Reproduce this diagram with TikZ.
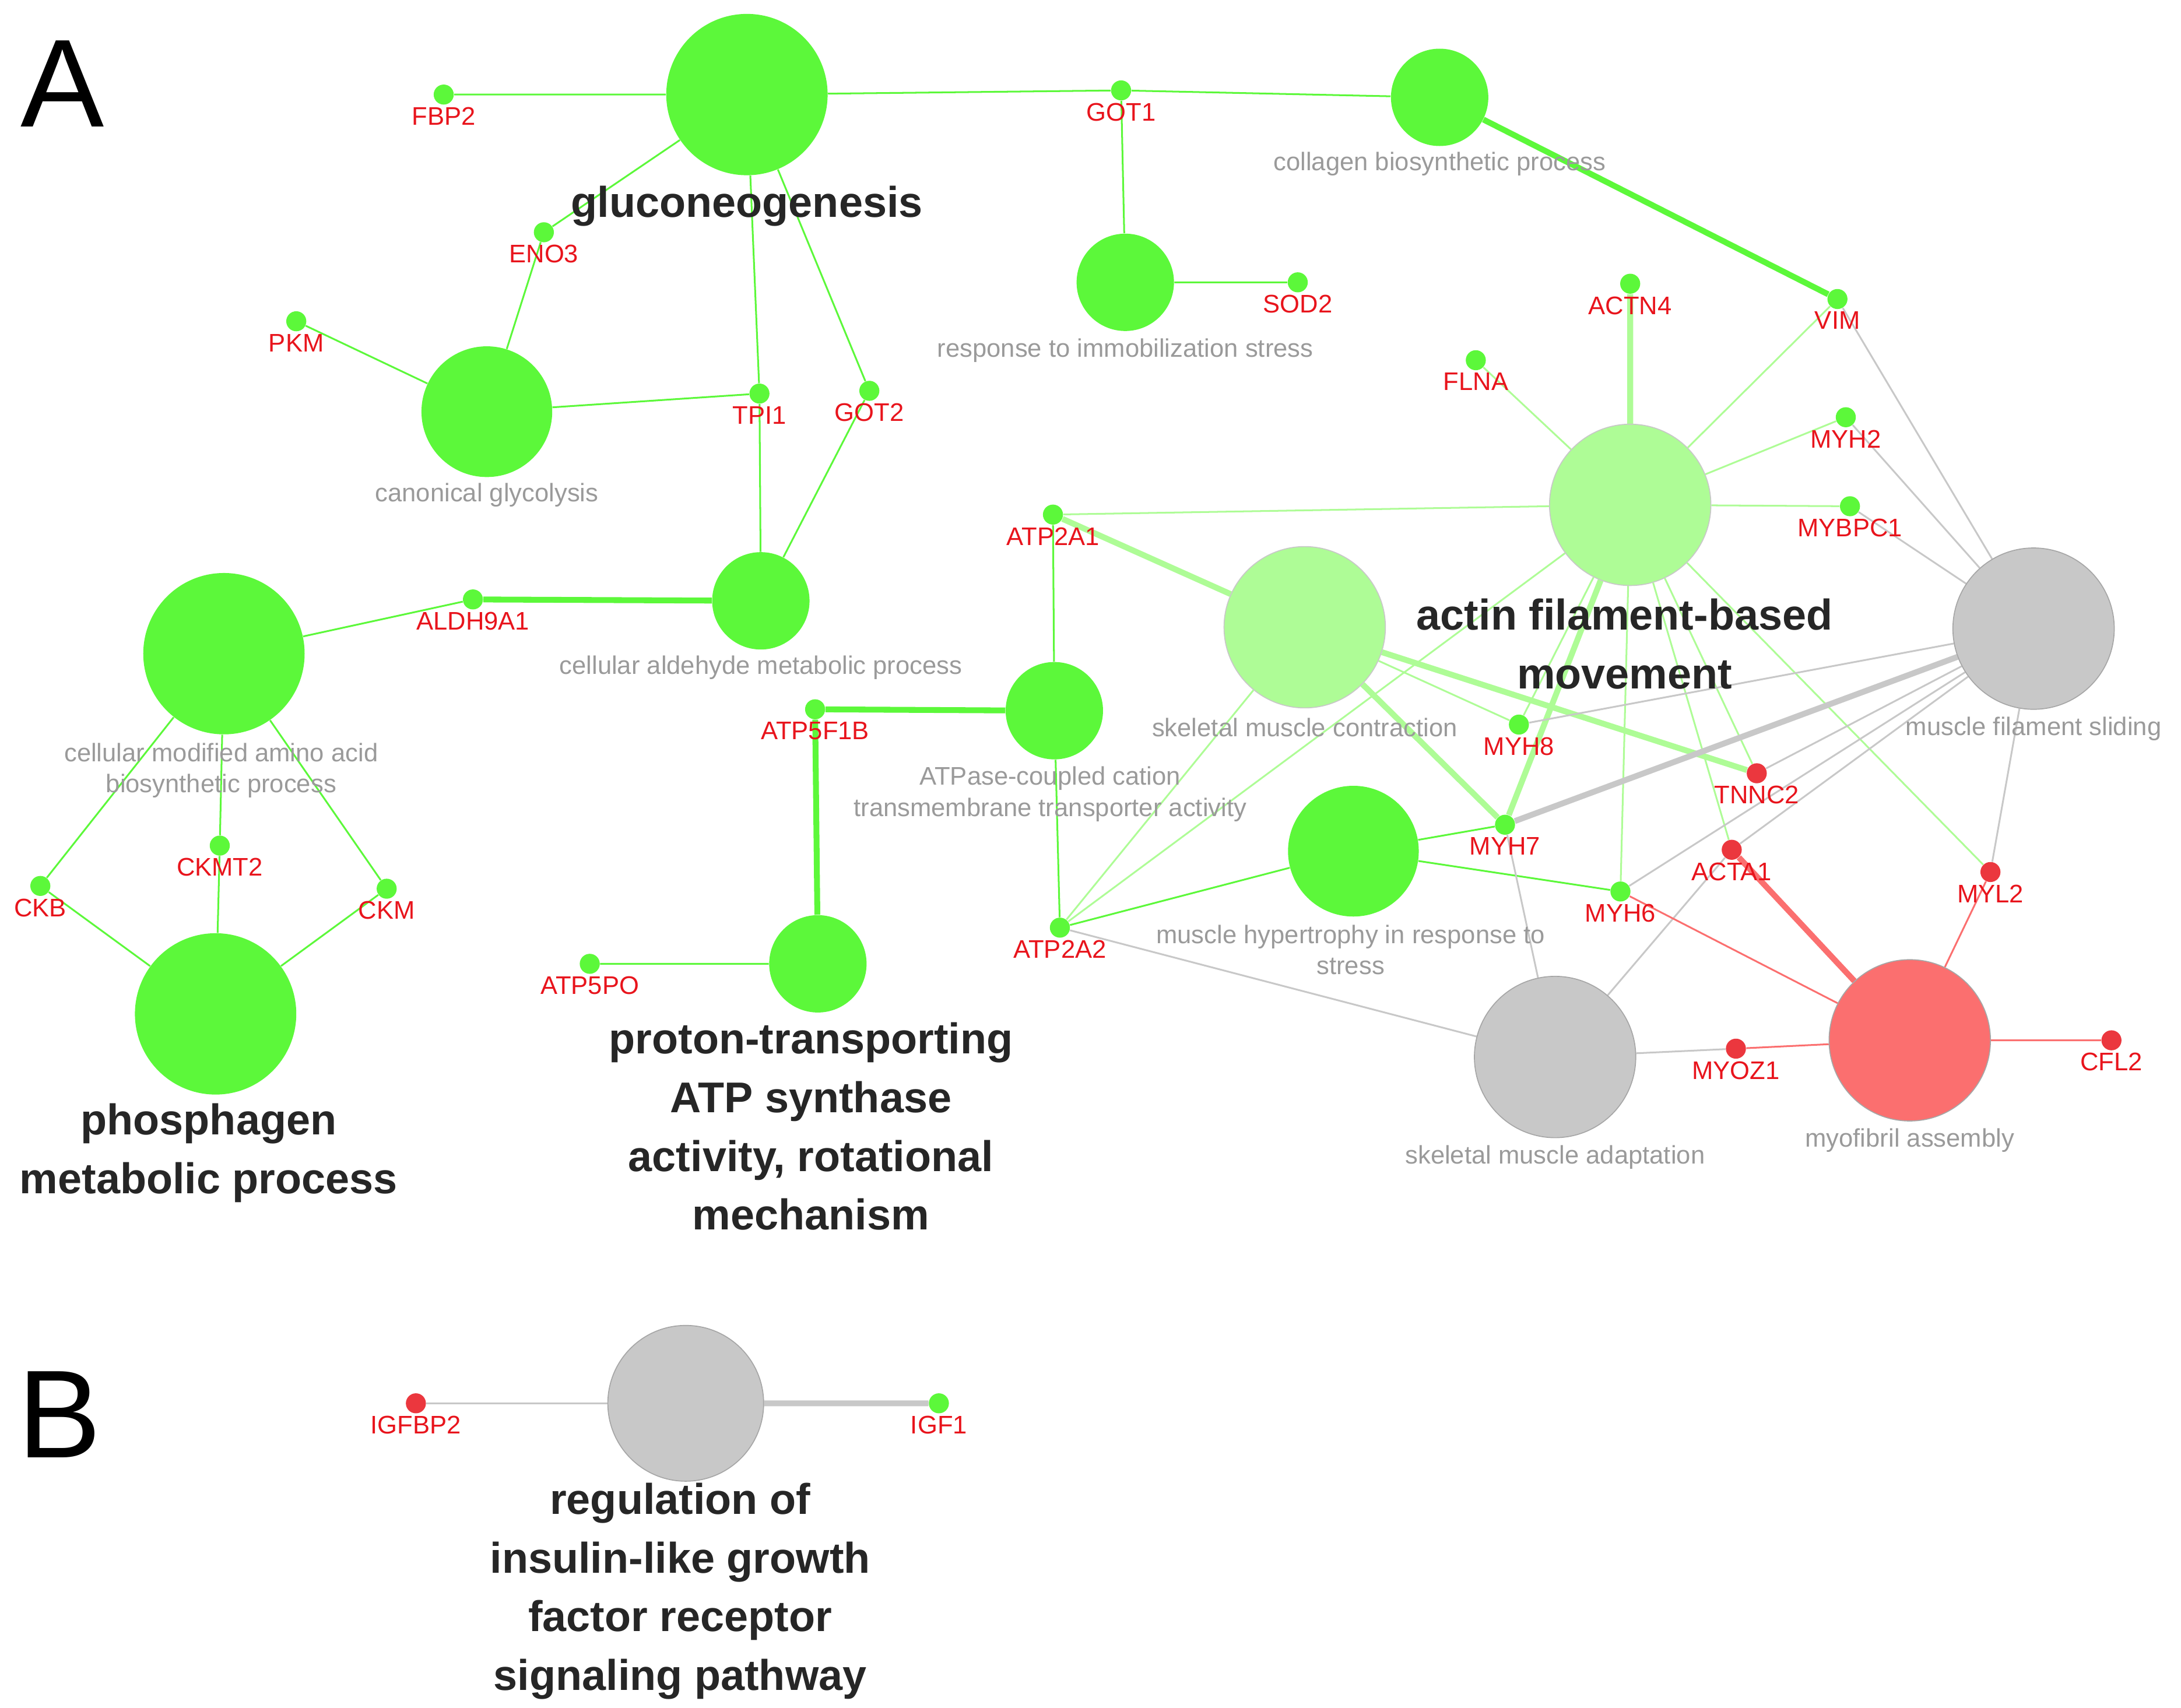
\documentclass[tikz,border=0pt]{standalone}
\usepackage{fontspec}
\setmainfont{Liberation Sans}
\usetikzlibrary{backgrounds}
\definecolor{tgreen}{HTML}{5CF83A}
\definecolor{lgreen}{HTML}{AEFC96}
\definecolor{tgray}{HTML}{C8C8C8}
\definecolor{tred}{HTML}{FB6F6F}
\definecolor{gred}{HTML}{E8141C}
\definecolor{lbl}{HTML}{9A9A9A}
\tikzset{
  term/.style={circle, inner sep=0pt, minimum size=#1*0.025cm},
  gene/.style={circle, inner sep=0pt, minimum size=0.36cm, label distance=2pt},
  gl/.style={text=gred, font=\fontsize{13}{15}\selectfont, inner sep=1pt},
  tl/.style={text=lbl, font=\fontsize{13}{16}\selectfont, align=center},
  bl/.style={text=black!85, font=\fontsize{22}{30}\selectfont\bfseries, align=center},
  eg/.style={draw=tgreen, line width=0.9pt},
  el/.style={draw=lgreen, line width=0.9pt},
  ey/.style={draw=tgray, line width=0.9pt},
  er/.style={draw=tred, line width=0.9pt},
  thick/.style={line width=3pt}
}
\begin{document}
\begin{tikzpicture}[x=0.025cm, y=-0.025cm]
  \useasboundingbox (0,0) rectangle (1568,1228);
  % term nodes
  \node[term=116, fill=tgreen] (gluco) at (537,68) {};
  \node[term=70, fill=tgreen] (coll) at (1035,70) {};
  \node[term=70, fill=tgreen] (immob) at (809,203) {};
  \node[term=94, fill=tgreen] (glyc) at (350,296) {};
  \node[term=70, fill=tgreen] (ald) at (547,432) {};
  \node[term=116, fill=tgreen] (amino) at (161,470) {};
  \node[term=70, fill=tgreen] (atpase) at (758,511) {};
  \node[term=116, fill=lgreen, draw=tgray, line width=0.5pt] (skel) at (938,451) {};
  \node[term=116, fill=lgreen, draw=tgray, line width=0.5pt] (actin) at (1172,363) {};
  \node[term=116, fill=tgray, draw=black!35, line width=0.5pt] (slide) at (1462,452) {};
  \node[term=94, fill=tgreen] (hyper) at (973,612) {};
  \node[term=116, fill=tgreen] (phos) at (155,729) {};
  \node[term=70, fill=tgreen] (proton) at (588,693) {};
  \node[term=116, fill=tgray, draw=black!35, line width=0.5pt] (adapt) at (1118,760) {};
  \node[term=116, fill=tred, draw=black!35, line width=0.5pt] (myo) at (1373,748) {};
  \node[term=112, fill=tgray, draw=black!35, line width=0.5pt] (igfr) at (493,1009) {};
  % gene nodes
  \node[gene, fill=tgreen, label={[gl]below:FBP2}] (fbp2) at (319,68) {};
  \node[gene, fill=tgreen, label={[gl]below:GOT1}] (got1) at (806,65) {};
  \node[gene, fill=tgreen, label={[gl]below:ENO3}] (eno3) at (391,167) {};
  \node[gene, fill=tgreen, label={[gl]below:PKM}] (pkm) at (213,231) {};
  \node[gene, fill=tgreen, label={[gl]below:TPI1}] (tpi1) at (546,283) {};
  \node[gene, fill=tgreen, label={[gl]below:GOT2}] (got2) at (625,281) {};
  \node[gene, fill=tgreen, label={[gl]below:SOD2}] (sod2) at (933,203) {};
  \node[gene, fill=tgreen, label={[gl]below:VIM}] (vim) at (1321,215) {};
  \node[gene, fill=tgreen, label={[gl]below:ACTN4}] (actn4) at (1172,204) {};
  \node[gene, fill=tgreen, label={[gl]below:FLNA}] (flna) at (1061,259) {};
  \node[gene, fill=tgreen, label={[gl]below:MYH2}] (myh2) at (1327,300) {};
  \node[gene, fill=tgreen, label={[gl]below:MYBPC1}] (mybpc1) at (1330,364) {};
  \node[gene, fill=tgreen, label={[gl]below:ATP2A1}] (atp2a1) at (757,370) {};
  \node[gene, fill=tgreen, label={[gl]below:ALDH9A1}] (aldh9a1) at (340,431) {};
  \node[gene, fill=tgreen, label={[gl]below:ATP5F1B}] (atp5f1b) at (586,510) {};
  \node[gene, fill=tgreen, label={[gl]below:MYH8}] (myh8) at (1092,521) {};
  \node[gene, fill=gred!85, label={[gl]below:TNNC2}] (tnnc2) at (1263,556) {};
  \node[gene, fill=tgreen, label={[gl]below:MYH7}] (myh7) at (1082,593) {};
  \node[gene, fill=gred!85, label={[gl]below:ACTA1}] (acta1) at (1245,611) {};
  \node[gene, fill=gred!85, label={[gl]below:MYL2}] (myl2) at (1431,627) {};
  \node[gene, fill=tgreen, label={[gl]below:MYH6}] (myh6) at (1165,641) {};
  \node[gene, fill=tgreen, label={[gl]below:ATP2A2}] (atp2a2) at (762,667) {};
  \node[gene, fill=tgreen, label={[gl]below:CKB}] (ckb) at (29,637) {};
  \node[gene, fill=tgreen, label={[gl]below:CKMT2}] (ckmt2) at (158,608) {};
  \node[gene, fill=tgreen, label={[gl]below:CKM}] (ckm) at (278,639) {};
  \node[gene, fill=tgreen, label={[gl]below:ATP5PO}] (atp5po) at (424,693) {};
  \node[gene, fill=gred!85, label={[gl]below:MYOZ1}] (myoz1) at (1248,754) {};
  \node[gene, fill=gred!85, label={[gl]below:CFL2}] (cfl2) at (1518,748) {};
  \node[gene, fill=gred!85, label={[gl]below:IGFBP2}] (igfbp2) at (299,1009) {};
  \node[gene, fill=tgreen, label={[gl]below:IGF1}] (igf1) at (675,1009) {};
  % edges
  \begin{pgfonlayer}{background}
  \path[eg] (gluco) -- (fbp2) (gluco) -- (got1) (got1) -- (coll) (got1) -- (immob)
    (immob) -- (sod2) (gluco) -- (eno3) (eno3) -- (glyc) (glyc) -- (pkm)
    (glyc) -- (tpi1) (gluco) -- (tpi1) (gluco) -- (got2) (tpi1) -- (ald)
    (got2) -- (ald) (aldh9a1) -- (amino) (amino) -- (ckb) (amino) -- (ckmt2)
    (amino) -- (ckm) (ckb) -- (phos) (ckmt2) -- (phos) (ckm) -- (phos)
    (proton) -- (atp5po) (atp2a1) -- (atpase) (atpase) -- (atp2a2)
    (hyper) -- (myh7) (hyper) -- (myh6) (hyper) -- (atp2a2);
  \path[eg, thick] (coll) -- (vim) (ald) -- (aldh9a1) (atp5f1b) -- (atpase)
    (atp5f1b) -- (proton);
  \path[el] (atp2a1) -- (actin) (actin) -- (flna) (actin) -- (vim) (actin) -- (myh2)
    (actin) -- (mybpc1) (actin) -- (myh8) (actin) -- (tnnc2) (actin) -- (myh6)
    (actin) -- (acta1) (actin) -- (myl2) (actin) -- (atp2a2) (skel) -- (atp2a2)
    (skel) -- (myh8);
  \path[el, thick] (atp2a1) -- (skel) (actin) -- (actn4) (actin) -- (myh7)
    (skel) -- (myh7) (skel) -- (tnnc2);
  \path[ey] (slide) -- (vim) (slide) -- (myh2) (slide) -- (mybpc1) (slide) -- (myh8)
    (slide) -- (tnnc2) (slide) -- (myh6) (slide) -- (acta1) (slide) -- (myl2)
    (adapt) -- (atp2a2) (adapt) -- (myh7) (adapt) -- (acta1) (adapt) -- (myoz1)
    (igfr) -- (igfbp2);
  \path[ey, thick] (slide) -- (myh7) (igfr) -- (igf1);
  \path[er] (myo) -- (myl2) (myo) -- (myh6) (myo) -- (myoz1) (myo) -- (cfl2);
  \path[er, thick] (myo) -- (acta1);
  \end{pgfonlayer}
  % term labels
  \node[tl] (lcoll) at (1035,118) {collagen biosynthetic process};
  \node[tl] (limmob) at (809,252) {response to immobilization stress};
  \node[tl] (lglyc) at (350,356) {canonical glycolysis};
  \node[tl] (lald) at (547,480) {cellular aldehyde metabolic process};
  \node[tl] (lamino) at (159,554) {cellular modified amino acid\\biosynthetic process};
  \node[tl] (latpase) at (755,571) {ATPase-coupled cation\\transmembrane transporter activity};
  \node[tl] (lskel) at (938,523) {skeletal muscle contraction};
  \node[tl] (lslide) at (1462,524) {muscle filament sliding};
  \node[tl] (lhyper) at (971,683) {muscle hypertrophy in response to\\stress};
  \node[tl] (ladapt) at (1118,832) {skeletal muscle adaptation};
  \node[tl] (lmyo) at (1373,820) {myofibril assembly};
  \node[bl] (lgluco) at (537,148) {gluconeogenesis};
  \node[bl] (lactin) at (1168,463) {actin filament-based\\movement};
  \node[bl] (lphos) at (150,829) {phosphagen\\metabolic process};
  \node[bl] (lproton) at (583,810) {proton-transporting\\ATP synthase\\activity, rotational\\mechanism};
  \node[bl] (ligfr) at (489,1144) {regulation of\\insulin-like growth\\factor receptor\\signaling pathway};
  \node[font=\fontsize{64}{64}\selectfont] (pa) at (45,60) {A};
  \node[font=\fontsize{64}{64}\selectfont] (pb) at (43,1017) {B};
\end{tikzpicture}
\end{document}
